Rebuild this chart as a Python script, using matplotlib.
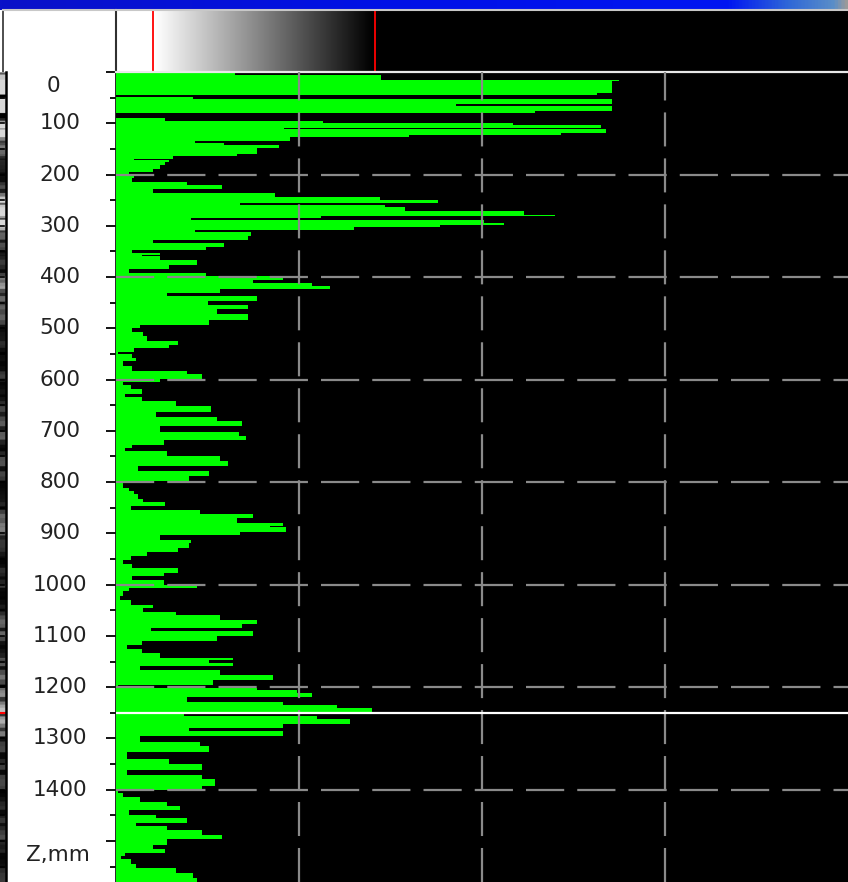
import numpy as np
import matplotlib
matplotlib.use("Agg")
import matplotlib.pyplot as plt
from matplotlib.colors import LinearSegmentedColormap, to_rgb

# ---- profile data: top depth of each step (mm) and amplitude on that step ----
z_top = [0, 1, 5, 15, 18, 41, 44, 49, 52, 63,
         67, 77, 80, 90, 95, 99, 103, 110, 112, 119,
         123, 127, 134, 138, 143, 149, 160, 164, 169, 171,
         176, 182, 190, 196, 200, 206, 215, 221, 228, 236,
         243, 249, 255, 259, 264, 272, 278, 281, 285, 288,
         294, 298, 303, 309, 313, 319, 327, 333, 342, 348,
         354, 356, 359, 366, 376, 385, 392, 398, 405, 411,
         418, 423, 431, 437, 447, 455, 463, 473, 484, 493,
         500, 507, 515, 525, 533, 538, 546, 551, 558, 564,
         574, 584, 590, 598, 604, 611, 619, 629, 634, 642,
         652, 663, 672, 681, 691, 702, 711, 717, 727, 733,
         740, 750, 759, 769, 779, 789, 797, 811, 818, 824,
         832, 839, 847, 854, 862, 870, 880, 886, 888, 897,
         904, 912, 919, 928, 936, 945, 951, 960, 967, 977,
         984, 990, 1000, 1006, 1013, 1023, 1029, 1039, 1045, 1053,
         1060, 1068, 1077, 1084, 1091, 1101, 1110, 1118, 1125, 1133,
         1143, 1146, 1153, 1159, 1166, 1176, 1185, 1195, 1201, 1206,
         1211, 1219, 1228, 1234, 1240, 1250, 1257, 1263, 1271, 1279,
         1286, 1296, 1306, 1315, 1327, 1340, 1349, 1361, 1371, 1380,
         1393, 1400, 1406, 1414, 1423, 1432, 1439, 1449, 1455, 1465,
         1471, 1479, 1488, 1497, 1507, 1516, 1523, 1530, 1536, 1544,
         1553, 1562, 1572]
z_bottom = 1580

amp = [152, 65, 145, 275, 271, 263, 0, 42, 271, 186,
       271, 229, 0, 27, 113, 217, 265, 92, 268, 243,
       160, 95, 43, 59, 89, 77, 66, 31, 10, 29,
       27, 24, 20, 7, 10, 9, 39, 58, 20, 87,
       144, 176, 68, 147, 158, 223, 240, 112, 41, 201,
       212, 177, 130, 43, 74, 72, 20, 59, 49, 9,
       24, 14, 24, 44, 29, 7, 49, 91, 75, 107,
       117, 57, 28, 77, 50, 72, 55, 72, 51, 13,
       9, 15, 17, 34, 29, 10, 1, 9, 11, 4,
       9, 39, 47, 24, 4, 8, 14, 5, 14, 33,
       52, 22, 55, 69, 24, 67, 71, 26, 9, 5,
       28, 57, 61, 12, 51, 40, 4, 7, 10, 12,
       15, 27, 8, 46, 75, 66, 91, 84, 93, 68,
       24, 41, 40, 34, 17, 8, 4, 9, 34, 26,
       9, 26, 44, 7, 4, 2, 8, 20, 15, 33,
       57, 77, 69, 19, 75, 55, 14, 6, 14, 24,
       64, 51, 64, 13, 57, 86, 53, 1, 77, 99,
       107, 39, 91, 121, 140, 37, 110, 128, 91, 40,
       91, 13, 46, 51, 6, 29, 47, 6, 47, 54,
       47, 1, 4, 13, 28, 35, 7, 22, 39, 11,
       28, 47, 58, 28, 20, 27, 5, 3, 8, 11,
       33, 42, 44]

depth_labels = [100, 200, 300, 400, 500, 600, 700, 800, 900, 1000,
                1100, 1200, 1300, 1400]
top_label = "0"
unit_label = "Z,mm"
cursor_depth = 1250
amp_max = 400
amp_grid = [100, 200, 300]
depth_grid = [200, 400, 600, 800, 1000, 1200, 1400]

# ---- figure layout in pixels ----
W, H = 848, 882
plt.rcParams["lines.scale_dashes"] = False
fig = plt.figure(figsize=(W / 100, H / 100), dpi=100, facecolor="white")


def box(x0, y0, x1, y1):
    """Axes rectangle from pixel coordinates measured from the top-left."""
    return [x0 / W, 1 - y1 / H, (x1 - x0) / W, (y1 - y0) / H]


def bare(ax):
    ax.set_xticks([])
    ax.set_yticks([])
    for s in ax.spines.values():
        s.set_visible(False)


# title bar
ax_title = fig.add_axes(box(0, 0, W, 10))
bare(ax_title)
title_cmap = LinearSegmentedColormap.from_list(
    "title", [(0.0, "#0a12c8"), (0.45, "#0010e6"), (0.86, "#0016f2"),
              (0.93, "#2e66d8"), (0.985, "#5a8ec8"), (1.0, "#9a9a9a")])
ax_title.imshow(np.linspace(0, 1, 512)[None, :], aspect="auto", cmap=title_cmap,
                extent=(0, 1, 0, 1))
ax_title.set_xlim(0, 1)
ax_title.set_ylim(0, 1)

# header: empty box on the left, grey-scale palette on the right
ax_hleft = fig.add_axes(box(3, 10, 116, 72))
bare(ax_hleft)
ax_hleft.set_facecolor("white")
ax_hleft.spines["left"].set_visible(True)
ax_hleft.spines["left"].set_color("#303030")
ax_hleft.spines["left"].set_linewidth(1.2)
ax_hleft.spines["top"].set_visible(True)
ax_hleft.spines["top"].set_color("#c8c8c8")
ax_hleft.spines["top"].set_linewidth(1.5)

ax_head = fig.add_axes(box(116, 10, W, 72))
bare(ax_head)
ax_head.set_xlim(0, 1)
ax_head.set_ylim(0, 1)
fx = np.linspace(0, 1, 732)
lo, hi = (153 - 116) / 732, (375 - 116) / 732
grey = np.interp(fx, [0, lo + 0.003, hi - 0.004, 1], [1, 1, 0, 0])
ax_head.imshow(np.dstack([grey, grey, grey])[None, :, :].reshape(1, -1, 3),
               aspect="auto", extent=(0, 1, 0, 1), interpolation="bilinear")
for xr in (lo, hi):
    ax_head.axvline(xr, color="#ff0000", lw=1.3)
ax_head.spines["top"].set_visible(True)
ax_head.spines["top"].set_color("#c8c8c8")
ax_head.spines["top"].set_linewidth(1.5)
ax_head.spines["left"].set_visible(True)
ax_head.spines["left"].set_color("#303030")
ax_head.spines["left"].set_linewidth(1.5)

# depth strip on the far left, shaded from the profile amplitude
edges = np.array(z_top + [z_bottom], dtype=float)
vals = np.array(amp, dtype=float)
ax_strip = fig.add_axes(box(0, 72, 6, H))
bare(ax_strip)
zz = np.arange(0, z_bottom, 1.0)
idx = np.clip(np.searchsorted(edges, zz, side="right") - 1, 0, len(vals) - 1)
shade = np.clip(vals[idx] / 160.0, 0, 1) * 0.85
ax_strip.imshow(shade[:, None], aspect="auto", cmap="gray", vmin=0, vmax=1,
                extent=(0, 1, z_bottom, 0))
ax_strip.set_xlim(0, 1)
ax_strip.set_ylim(z_bottom, 0)
for d in range(50, z_bottom, 50):
    ax_strip.plot([0, 0.6], [d, d], color="black", lw=1.2)
ax_strip.axhline(cursor_depth, color="#ff0000", lw=1.5)

# depth scale panel
ax_lab = fig.add_axes(box(6, 72, 116, H))
ax_lab.set_facecolor("white")
ax_lab.set_xlim(0, 1)
ax_lab.set_ylim(z_bottom, 0)
ax_lab.set_xticks([])
ax_lab.yaxis.tick_right()
ax_lab.set_yticks(list(range(0, z_bottom, 100)))
ax_lab.set_yticks(list(range(50, z_bottom, 100)), minor=True)
ax_lab.tick_params(axis="y", which="major", direction="in", length=7.5,
                   width=1.3, color="black", labelright=False)
ax_lab.tick_params(axis="y", which="minor", direction="in", length=4.5,
                   width=1.3, color="black")
for side in ("top", "bottom"):
    ax_lab.spines[side].set_visible(False)
ax_lab.spines["left"].set_linewidth(1.8)
ax_lab.spines["right"].set_linewidth(2.0)
ax_lab.spines["right"].set_color("#151515")

label_font = dict(family="DejaVu Sans", size=15.5, color="#222222",
                  ha="center", va="center")
lx = (60 - 6) / 110
for d in depth_labels:
    ax_lab.text(lx, d, f"{d}", **label_font)
ax_lab.text((53 - 6) / 110, 28, top_label, **label_font)
ax_lab.text((58 - 6) / 110, 1527, unit_label, **label_font)

# main profile plot
ax = fig.add_axes(box(116, 72, W, H))
ax.set_facecolor("black")
ax.set_xlim(0, amp_max)
ax.set_ylim(z_bottom, 0)
ax.stairs(vals, edges, orientation="horizontal", baseline=0, fill=True,
          color="#00ff00", antialiased=False, zorder=1)
ax.set_xticks(amp_grid)
ax.set_yticks(depth_grid)
ax.tick_params(length=0, labelleft=False, labelbottom=False)
ax.set_axisbelow(False)
ax.xaxis.grid(True, color="#8a8a8a", lw=1.6, linestyle=(0, (24.5, 8.6)))
ax.yaxis.grid(True, color="#8a8a8a", lw=1.6, linestyle=(0, (27.5, 9.4)))
for side in ("left", "right", "bottom"):
    ax.spines[side].set_visible(False)
ax.spines["top"].set_color("#e8e8e8")
ax.spines["top"].set_linewidth(1.6)
ax.axhline(cursor_depth, color="white", lw=1.6, zorder=3)

fig.savefig("out.png", dpi=100, facecolor="white")
